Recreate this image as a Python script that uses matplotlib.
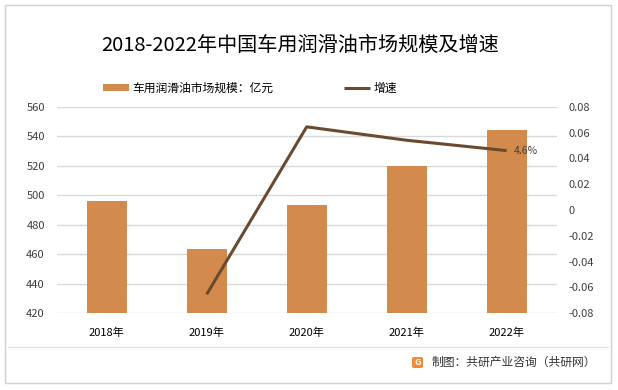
import matplotlib
matplotlib.use('Agg')
import matplotlib.pyplot as plt
from matplotlib.patches import Rectangle, FancyBboxPatch
from matplotlib.lines import Line2D

plt.rcParams['font.family'] = ['Noto Sans CJK SC', 'DejaVu Sans']

years = ["2018年", "2019年", "2020年", "2021年", "2022年"]
scale = [496, 463.5, 493.4, 519.8, 544.1]  # 亿元
growth = [None, -0.0653, 0.0644, 0.054, 0.046]

left_ticks = [420, 440, 460, 480, 500, 520, 540, 560]
right_ticks = [-0.08, -0.06, -0.04, -0.02, 0, 0.02, 0.04, 0.06, 0.08]
right_labels = ["-0.08", "-0.06", "-0.04", "-0.02", "0", "0.02", "0.04", "0.06", "0.08"]

BAR_COLOR = "#D38B4D"
LINE_COLOR = "#6B4A2F"
TEXT_COLOR = "#404040"
GRID_COLOR = "#D9D9D9"

fig = plt.figure(figsize=(6.18, 3.9), dpi=100)

# outer frame and footer divider
fig.add_artist(Rectangle((5 / 618, 7 / 390), 606 / 618, 378 / 390, transform=fig.transFigure,
                         fill=False, edgecolor="#D0D0D0", linewidth=1.0))
fig.add_artist(Line2D([8 / 618, 608 / 618], [1 - 347 / 390, 1 - 347 / 390], transform=fig.transFigure,
                      color="#E3E3E3", linewidth=1.0))

ax = fig.add_axes([56.7 / 618, 1 - 313.3 / 390, 500 / 618, 206.6 / 390])
ax.set_facecolor("none")
x = list(range(len(years)))
bars = ax.bar(x, [v - 420 for v in scale], bottom=420, width=0.4, color=BAR_COLOR, zorder=3,
              label="车用润滑油市场规模：亿元")
ax.set_xlim(-0.5, len(years) - 0.5)
ax.set_ylim(420, 560)
ax.set_yticks(left_ticks)
ax.set_yticklabels([str(t) for t in left_ticks])
ax.grid(axis="y", color=GRID_COLOR, linewidth=1.0, zorder=0)
ax.set_xticks(x)
ax.set_xticklabels(years)
for s in ax.spines.values():
    s.set_visible(False)
ax.tick_params(axis="both", length=0, labelsize=8, colors=TEXT_COLOR)
ax.tick_params(axis="x", pad=10, colors="black")
ax.tick_params(axis="y", pad=8.5)

ax2 = ax.twinx()
gx = [i for i, g in zip(x, growth) if g is not None]
gy = [g for g in growth if g is not None]
line, = ax2.plot(gx, gy, color=LINE_COLOR, linewidth=2.2, zorder=4, label="增速",
                 solid_capstyle="butt")
ax2.set_ylim(-0.08, 0.08)
ax2.set_yticks(right_ticks)
ax2.set_yticklabels(right_labels)
for s in ax2.spines.values():
    s.set_visible(False)
ax2.tick_params(axis="y", length=0, labelsize=8, colors=TEXT_COLOR, pad=8.5)
ax2.annotate("4.6%", (gx[-1], gy[-1]), xytext=(5, 0), textcoords="offset points",
             fontsize=7.5, color=TEXT_COLOR, va="center", ha="left")

fig.text(300 / 618, 1 - 45 / 390, "2018-2022年中国车用润滑油市场规模及增速", fontsize=14.5,
         color="black", ha="center", va="center")

fig.legend([bars, line], ["车用润滑油市场规模：亿元", "增速"], loc="center",
           bbox_to_anchor=(250 / 618, 1 - 88 / 390), ncol=2, frameon=False, fontsize=8.5,
           handlelength=2.2, handleheight=0.6, columnspacing=6, handletextpad=0.3,
           labelcolor="black")

# footer
fig.add_artist(FancyBboxPatch((412 / 618, 1 - 368 / 390), 11 / 618, 11 / 390,
                              boxstyle="round,pad=0,rounding_size=0.004", transform=fig.transFigure,
                              facecolor="#F08A3C", edgecolor="none"))
fig.text(417.5 / 618, 1 - 362.5 / 390, "G", fontsize=6.5, color="white", fontweight="bold",
         ha="center", va="center")
fig.text(432 / 618, 1 - 362 / 390, "制图：共研产业咨询（共研网）", fontsize=8.5, color="#333333",
         ha="left", va="center")

fig.savefig("out.png", dpi=100)
